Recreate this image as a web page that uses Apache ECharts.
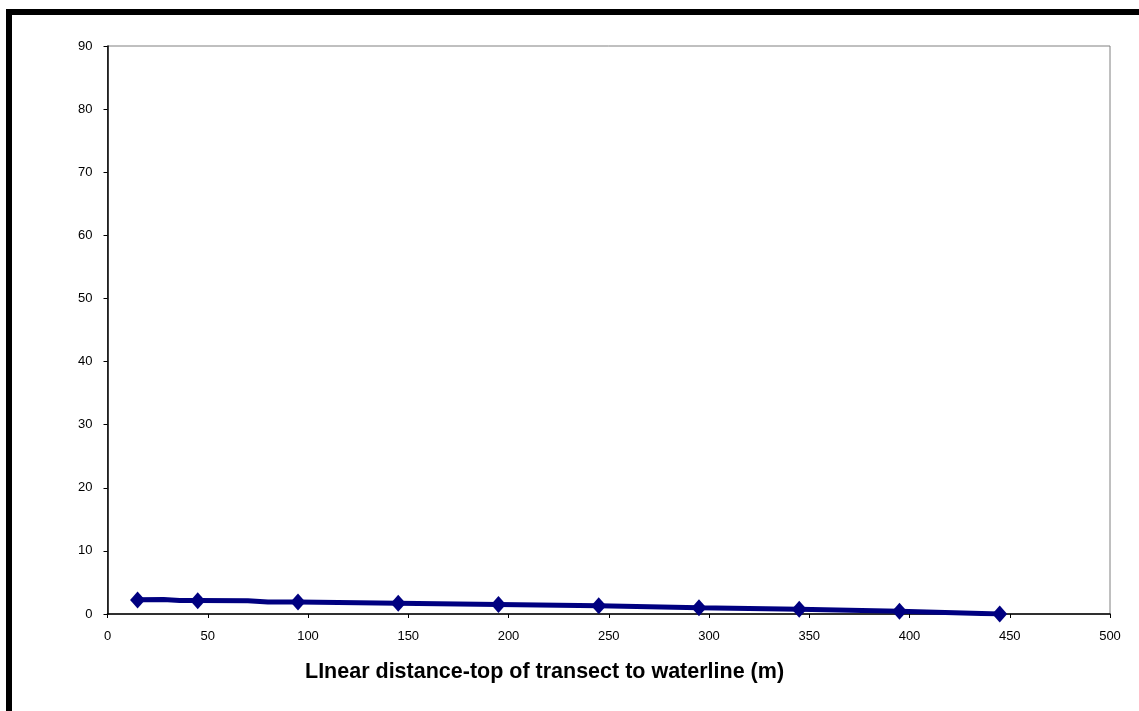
<!DOCTYPE html>
<html>
<head>
<meta charset="utf-8">
<script src="https://cdn.jsdelivr.net/npm/echarts@6/dist/echarts.min.js"></script>
<style>
  html, body { margin: 0; padding: 0; background: #fff; }
  #main { width: 1139px; height: 711px; }
</style>
</head>
<body>
<div id="main"></div>
<script>
// marked points: distance (m) and value
var markDistance = [15, 45, 95, 145, 195, 245, 295, 345, 395, 445];
var markValue = [2.2, 2.1, 1.9, 1.7, 1.5, 1.3, 1.0, 0.75, 0.45, 0];

// the line itself has a few extra unmarked bends at the start
var lineDistance = [15, 28, 36, 45, 70, 80, 95, 145, 195, 245, 295, 345, 395, 445];
var lineValue = [2.25, 2.3, 2.15, 2.15, 2.1, 1.9, 1.9, 1.7, 1.5, 1.3, 1.0, 0.75, 0.45, 0];

var xTitle = 'LInear distance-top of transect to waterline (m)';

var myChart = echarts.init(document.getElementById('main'));

var labelFont = { color: '#000', fontSize: 13, fontFamily: 'Liberation Sans, Arial, sans-serif' };

myChart.setOption({
  animation: false,
  backgroundColor: '#fff',
  title: {
    text: xTitle,
    left: 300,
    top: 656,
    textStyle: { fontSize: 21.5, fontWeight: 'bold', color: '#000', fontFamily: 'Liberation Sans, Arial, sans-serif' }
  },
  graphic: [
    {
      type: 'rect',
      shape: { x: 9, y: 12, width: 3000, height: 3000 },
      style: { fill: 'none', stroke: '#000', lineWidth: 6 },
      silent: true
    }
  ],
  grid: {
    left: 107.5, right: 29, top: 46, bottom: 97,
    show: true, borderColor: '#808080', borderWidth: 1
  },
  xAxis: {
    type: 'value', min: 0, max: 500, interval: 50,
    axisLine: { show: true, lineStyle: { color: '#000', width: 1.5 } },
    axisTick: { show: true, length: 4, lineStyle: { color: '#000' } },
    axisLabel: Object.assign({ margin: 16 }, labelFont),
    splitLine: { show: false }
  },
  yAxis: {
    type: 'value', min: 0, max: 90, interval: 10,
    axisLine: { show: true, lineStyle: { color: '#000', width: 1.5 } },
    axisTick: { show: true, length: 4, lineStyle: { color: '#000' } },
    axisLabel: Object.assign({ margin: 15 }, labelFont),
    splitLine: { show: false }
  },
  series: [
    {
      type: 'line',
      data: lineDistance.map(function (d, i) { return [d, lineValue[i]]; }),
      showSymbol: false,
      symbol: 'none',
      lineStyle: { color: '#000080', width: 5 },
      z: 3
    },
    {
      type: 'scatter',
      data: markDistance.map(function (d, i) { return [d, markValue[i]]; }),
      symbol: 'diamond',
      symbolSize: [15, 17],
      itemStyle: { color: '#000080', opacity: 1 },
      z: 4
    }
  ]
});
</script>
</body>
</html>
